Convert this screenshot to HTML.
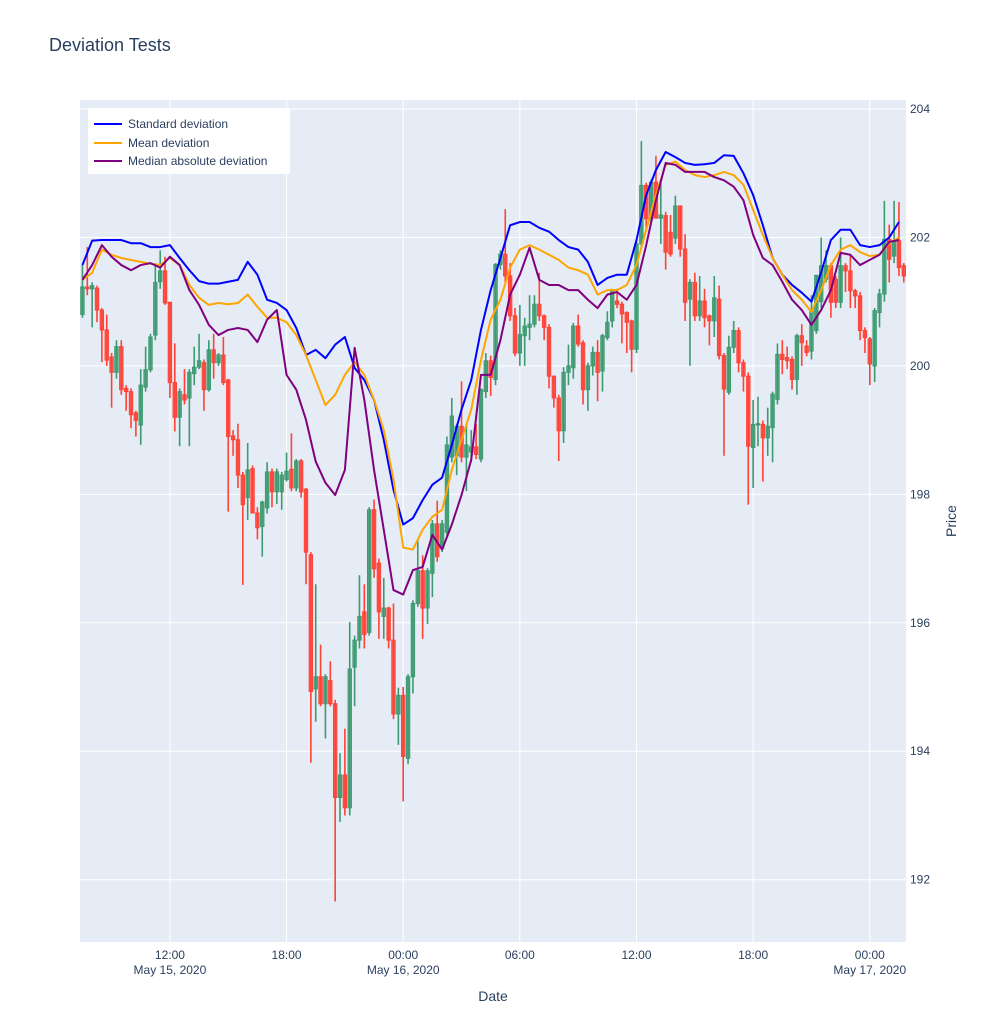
<!DOCTYPE html>
<html><head><meta charset="utf-8"><style>
body{margin:0;background:#fff;font-family:"Liberation Sans",sans-serif;}
svg text{font-family:"Liberation Sans",sans-serif;fill:#2a3f5f;}
</style></head><body>
<svg id="chart" width="987" height="1025" xmlns="http://www.w3.org/2000/svg">
<text x="49" y="51" font-size="18">Deviation Tests</text>
<rect x="80" y="100" width="826" height="842" fill="#E5ECF6"/>
<g id="grid"></g><g id="marks"></g><g id="lines"></g><g id="axes"></g>
<text x="493" y="1001" font-size="14" text-anchor="middle">Date</text>
<text transform="translate(956,521) rotate(-90)" font-size="14" text-anchor="middle">Price</text>
<g>
<rect x="88" y="108" width="202" height="66" fill="#fff"/>
<g><line x1="94" y1="124" x2="122" y2="124" stroke="#0000ff" stroke-width="2"/><text x="128" y="128" font-size="12">Standard deviation</text></g>
<g><line x1="94" y1="143" x2="122" y2="143" stroke="#FFA500" stroke-width="2"/><text x="128" y="147" font-size="12">Mean deviation</text></g>
<g><line x1="94" y1="161" x2="122" y2="161" stroke="#800080" stroke-width="2"/><text x="128" y="165" font-size="12">Median absolute deviation</text></g>
</g>
</svg>
<script>
const opens=[200.8,201.23,201.2,201.21,200.87,200.56,200.14,199.9,200.3,199.65,199.6,199.27,199.08,199.67,199.94,200.48,201.31,201.48,200.99,199.74,199.2,199.55,199.5,199.88,199.98,200.05,199.63,200.25,200.05,200.17,199.78,198.91,198.85,198.3,197.95,198.4,197.71,197.5,197.79,198.35,198.04,198.04,198.23,198.39,198.1,198.52,198.08,197.06,194.97,195.16,194.74,195.1,194.74,193.28,193.63,193.12,195.31,195.73,196.17,195.85,197.76,196.93,196.1,196.23,195.73,194.58,194.87,193.89,195.16,196.3,196.81,196.23,196.77,197.54,197.16,197.41,198.58,198.6,199.06,198.58,198.66,198.74,198.55,199.6,200.08,199.79,201.58,201.74,201.4,200.78,200.2,200.47,200.6,200.65,200.96,200.78,200.6,199.84,199.5,198.99,199.9,199.97,200.62,200.36,199.63,200.0,200.21,199.92,200.44,200.7,201.01,200.96,200.83,200.7,200.26,201.9,202.81,202.29,202.86,202.3,202.34,202.08,201.99,202.49,201.82,201.04,201.3,200.78,201.01,200.78,200.7,201.04,200.16,199.59,200.29,200.55,200.05,199.84,198.73,199.08,199.09,198.88,199.04,199.48,200.18,200.13,200.1,199.79,200.47,200.31,200.23,200.55,201.0,201.35,201.56,201.35,200.99,201.56,201.48,201.17,201.09,200.55,200.42,200.0,200.83,201.12,201.97,201.71,201.95,201.56];
const highs=[201.57,201.85,201.3,201.25,200.9,200.8,200.2,200.4,200.4,199.7,199.65,199.3,199.95,200.3,200.5,201.6,201.8,201.7,201.0,200.35,199.65,199.95,199.95,200.3,200.5,200.1,200.4,200.5,200.2,200.45,199.8,199.0,199.1,198.35,198.8,198.45,197.8,197.9,198.5,198.4,198.4,198.35,198.65,198.95,198.55,198.55,198.1,197.1,196.6,195.66,195.2,195.4,194.8,193.97,194.35,196.01,195.8,196.74,196.6,197.8,197.92,197.0,196.7,196.25,196.3,194.99,195.0,195.2,196.35,197.3,197.05,196.85,197.6,197.9,197.6,198.9,199.5,199.1,199.76,199.1,199.0,199.1,199.65,200.2,200.16,201.6,201.8,202.44,201.6,200.9,200.95,200.75,201.1,201.1,201.45,200.8,200.65,199.85,199.55,199.98,200.33,200.67,200.8,200.4,200.05,200.3,200.4,200.5,200.85,201.2,201.2,201.0,200.85,200.72,201.98,203.5,202.85,202.9,203.27,202.85,202.4,202.35,202.65,202.5,202.05,201.35,201.45,201.4,201.2,200.8,201.4,201.25,200.2,200.47,200.7,200.6,200.1,199.9,199.47,199.52,199.15,199.35,199.6,200.35,200.4,200.3,200.15,200.5,200.65,200.4,201.1,201.41,202.0,201.8,201.6,201.4,202.0,201.6,201.74,201.2,201.15,200.6,200.45,200.9,201.2,202.57,202.2,202.57,202.55,201.6];
const lows=[200.75,201.1,200.6,200.68,200.06,200.0,199.35,199.8,199.55,199.3,199.03,198.9,198.77,199.6,199.9,200.4,201.2,200.95,199.5,198.98,198.75,199.4,198.75,199.7,199.95,199.3,199.6,199.8,200.0,199.7,197.73,198.6,198.1,196.59,197.6,197.7,197.3,197.03,197.7,197.8,197.85,197.76,198.2,198.05,198.05,197.95,196.6,193.82,194.46,194.7,194.2,194.7,191.66,192.9,193.0,193.0,194.7,195.6,195.6,195.8,196.7,195.75,195.75,195.6,194.5,194.1,193.22,193.8,194.9,196.25,195.75,195.98,196.4,196.95,197.1,197.35,198.5,198.3,198.5,198.05,198.5,198.55,198.5,199.5,199.53,199.7,201.5,201.3,200.7,200.15,200.0,200.0,200.4,200.6,200.7,200.4,199.65,199.35,198.52,198.8,199.7,199.8,200.3,199.4,199.3,199.85,199.45,199.6,200.4,200.6,200.9,200.35,200.2,199.9,200.2,201.85,202.1,202.2,202.3,201.9,201.5,201.7,201.9,201.7,200.7,200.0,200.7,200.7,200.6,200.32,200.45,200.1,198.6,199.55,200.2,199.9,199.6,197.84,198.1,198.75,198.2,198.6,198.5,199.4,199.87,199.95,199.63,199.55,200.0,200.15,200.1,200.5,200.9,201.3,200.75,200.9,200.9,201.15,200.9,200.9,200.4,200.2,199.7,199.75,200.6,201.0,201.3,201.6,201.4,201.3];
const closes=[201.23,201.2,201.25,200.87,200.56,200.09,199.9,200.3,199.63,199.6,199.24,199.15,199.7,199.94,200.45,201.3,201.48,200.98,199.74,199.2,199.6,199.47,199.9,199.98,200.08,199.63,200.25,200.05,200.17,199.74,198.9,198.85,198.3,197.84,198.38,197.71,197.48,197.88,198.35,198.04,198.35,198.3,198.36,198.1,198.52,198.04,197.1,194.93,195.16,194.74,195.16,194.74,193.28,193.63,193.12,195.28,195.73,196.1,195.82,197.76,196.84,196.17,196.23,195.73,194.58,194.87,193.92,195.16,196.3,196.81,196.23,196.81,197.54,197.03,197.54,198.77,199.22,199.06,198.58,198.77,198.74,198.62,199.63,200.08,199.82,201.58,201.74,201.4,200.78,200.2,200.49,200.62,200.65,200.96,200.78,200.6,199.84,199.5,198.99,199.9,200.0,200.62,200.34,199.63,200.0,200.21,199.9,200.47,200.68,201.17,200.96,200.81,200.68,200.26,201.9,202.81,202.29,202.86,202.3,202.35,201.77,201.74,202.49,201.82,200.99,201.3,200.78,201.01,200.75,200.7,201.06,200.16,199.64,200.29,200.55,200.05,199.84,198.75,199.09,199.1,198.88,199.06,199.56,200.18,200.1,200.08,199.79,200.47,200.36,200.21,200.86,201.41,201.56,201.56,200.99,200.99,201.56,201.48,201.17,201.09,200.55,200.44,200.03,200.86,201.12,201.97,201.66,201.95,201.53,201.4];
const stdDev=[201.57,201.95,201.96,201.96,201.96,201.91,201.91,201.85,201.85,201.88,201.68,201.49,201.32,201.28,201.28,201.31,201.34,201.62,201.42,201.03,200.98,200.87,200.59,200.17,200.25,200.12,200.33,200.45,199.97,199.78,199.47,198.85,198.07,197.53,197.63,197.91,198.15,198.26,198.77,199.32,199.78,200.56,201.18,201.68,202.19,202.24,202.24,202.15,202.09,201.96,201.85,201.81,201.62,201.26,201.37,201.42,201.42,201.96,202.66,203.05,203.33,203.25,203.16,203.13,203.14,203.16,203.28,203.27,203.0,202.66,202.19,201.68,201.42,201.26,201.14,201.0,201.46,201.96,202.12,202.12,201.88,201.85,201.88,202.0,202.24];
const meanDev=[201.34,201.45,201.81,201.73,201.68,201.65,201.62,201.59,201.57,201.68,201.57,201.26,201.06,200.95,200.98,200.96,200.98,201.11,200.92,200.75,200.75,200.68,200.48,200.17,199.78,199.39,199.55,199.86,200.06,199.86,199.47,199.0,198.23,197.17,197.14,197.45,197.65,197.76,198.38,198.85,199.32,200.09,200.72,201.03,201.53,201.81,201.88,201.81,201.73,201.65,201.53,201.49,201.42,201.11,201.18,201.18,201.26,201.57,202.12,202.66,203.13,203.18,203.05,202.97,202.94,202.97,203.02,202.97,202.82,202.43,202.04,201.68,201.42,201.18,201.03,200.84,201.18,201.57,201.81,201.88,201.77,201.71,201.73,201.91,202.0];
const medAbsDev=[201.34,201.57,201.88,201.7,201.57,201.49,201.57,201.6,201.53,201.7,201.57,201.18,200.95,200.64,200.48,200.56,200.59,200.56,200.37,200.72,200.87,199.86,199.63,199.16,198.51,198.18,197.99,198.38,200.28,199.47,198.38,197.45,196.51,196.44,196.82,196.87,197.37,197.14,197.53,197.99,198.54,199.86,199.86,200.4,201.11,201.42,201.84,201.34,201.26,201.26,201.18,201.18,201.03,200.9,201.11,201.15,201.03,201.26,201.88,202.58,203.16,203.13,203.02,203.02,203.02,202.94,202.89,202.79,202.58,202.04,201.68,201.57,201.31,201.03,200.87,200.64,200.87,201.18,201.76,201.73,201.57,201.65,201.73,201.93,201.96];
const yTicks=[192,194,196,198,200,202,204];
const xTickIdx=[18,42,66,90,114,138,162];
const xTickTime=["12:00","18:00","00:00","06:00","12:00","18:00","00:00"];
const xTickDate=["May 15, 2020","","May 16, 2020","","","","May 17, 2020"];

const NS="http://www.w3.org/2000/svg";
const X0=80,X1=906,Y0=100,Y1=942;
const xMin=-0.5,xMax=169.45,yMin=191.03,yMax=204.14;
function xs(i){return X0+(i-xMin)/(xMax-xMin)*(X1-X0);}
function ys(p){return Y1-(p-yMin)/(yMax-yMin)*(Y1-Y0);}
function mk(tag,attrs,parent){const e=document.createElementNS(NS,tag);for(const k in attrs)e.setAttribute(k,attrs[k]);parent.appendChild(e);return e;}
const grid=document.getElementById('grid'),marks=document.getElementById('marks'),lines=document.getElementById('lines'),axes=document.getElementById('axes');
yTicks.forEach(v=>{const y=ys(v);
 const g=mk('line',{x1:X0,x2:X1,y1:y,y2:y,stroke:'#fff','stroke-width':1},grid);
 
 
 const t=mk('text',{x:910,y:y+4,'font-size':12},axes);t.textContent=v;
 
 
});
xTickIdx.forEach((idx,k)=>{const x=xs(idx);
 const g=mk('line',{x1:x,x2:x,y1:Y0,y2:Y1,stroke:'#fff','stroke-width':1},grid);
 
 
 const t=mk('text',{x:x,y:959,'font-size':12,'text-anchor':'middle'},axes);t.textContent=xTickTime[k];
 
 
 if(xTickDate[k]){const d=mk('text',{x:x,y:974,'font-size':12,'text-anchor':'middle'},axes);d.textContent=xTickDate[k];
 
 }
});
closes.forEach((c,i)=>{const o=opens[i],up=c>=o,col=up?'#3D9970':'#FF4136';const x=xs(i);
 const g=mk('g',{},marks);
 
 
 mk('line',{x1:x,x2:x,y1:ys(highs[i]),y2:ys(lows[i]),stroke:col,'stroke-width':1.6},g);
 const top=ys(Math.max(o,c)),bot=ys(Math.min(o,c));
 mk('rect',{x:x-1.7,y:top,width:3.4,height:Math.max(bot-top,1),fill:col,'fill-opacity':0.75,stroke:col,'stroke-width':1},g);
});
function drawLine(arr,col,name){const pts=arr.map((v,k)=>xs(k*2)+','+ys(v)).join(' ');
 const p=mk('polyline',{points:pts,fill:'none',stroke:col,'stroke-width':2,'stroke-linejoin':'round'},lines);
 
 
}
drawLine(stdDev,'#0000ff','std-deviation-line');
drawLine(meanDev,'#FFA500','mean-deviation-line');
drawLine(medAbsDev,'#800080','median-abs-deviation-line');
</script>
</body></html>
